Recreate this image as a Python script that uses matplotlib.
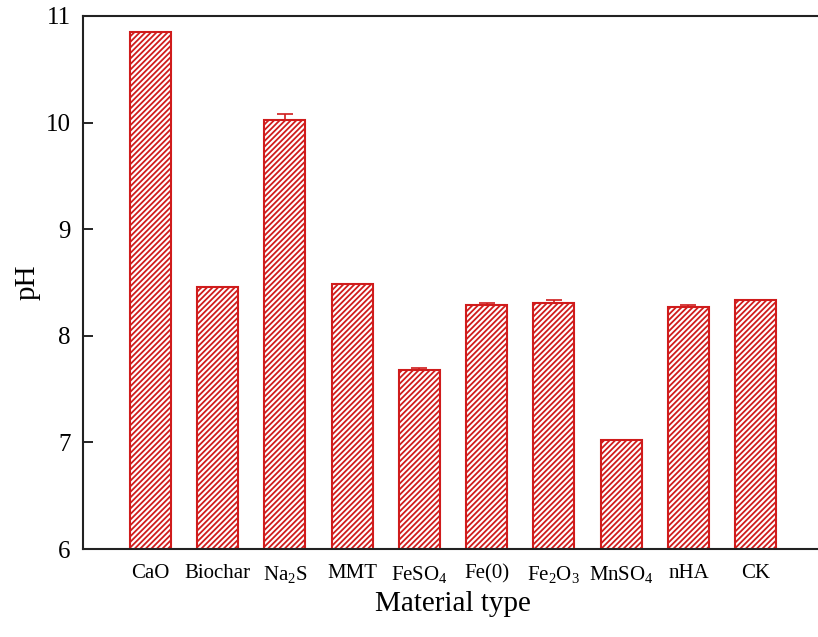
import numpy as np
import matplotlib
matplotlib.use('Agg')
import matplotlib.pyplot as plt

# pH of soil after treatment with each amendment
materials = ['CaO', 'Biochar', r'Na$_2$S', 'MMT', r'FeSO$_4$', 'Fe(0)',
             r'Fe$_2$O$_3$', r'MnSO$_4$', 'nHA', 'CK']
ph_mean = [10.85, 8.46, 10.02, 8.49, 7.68, 8.29, 8.31, 7.02, 8.27, 8.34]
ph_err = [0.0, 0.0, 0.06, 0.0, 0.015, 0.02, 0.03, 0.0, 0.02, 0.0]

plt.rcParams['font.family'] = 'Liberation Serif'
plt.rcParams['mathtext.fontset'] = 'custom'
plt.rcParams['mathtext.rm'] = 'Liberation Serif'
plt.rcParams['mathtext.it'] = 'Liberation Serif:italic'
plt.rcParams['hatch.linewidth'] = 1.3
plt.rcParams['hatch.color'] = '#d01c1c'

red = '#d01c1c'
fig = plt.figure(figsize=(8.18, 6.37), dpi=100)
ax = fig.add_axes([83 / 818, 1 - 549 / 637, 740 / 818, 533 / 637])

x = np.arange(len(materials))
# caps only on the upper side, the bar covers the rest
ax.errorbar(x, ph_mean, yerr=[np.zeros(len(ph_err)), ph_err], fmt='none',
            ecolor=red, elinewidth=1.2, capsize=5.5, capthick=1.2, zorder=1)
ax.bar(x, ph_mean, width=0.61, bottom=0, color='white', edgecolor=red,
       hatch='//////', linewidth=1.5, zorder=2)

ax.set_xlim(-1, 10)
ax.set_ylim(6, 11)
ax.set_yticks([6, 7, 8, 9, 10, 11])
ax.set_xticks(x)
ax.set_xticklabels(materials, fontsize=15)
ax.tick_params(axis='y', direction='in', length=7, width=1.2, labelsize=18, pad=9)
ax.tick_params(axis='x', length=0, pad=11)
for s in ax.spines.values():
    s.set_linewidth(1.5)
    s.set_color('#222222')

ax.set_xlabel('Material type', fontsize=21, labelpad=4)
ax.set_ylabel('pH', fontsize=21)
ax.yaxis.set_label_coords(-0.058, 0.5)

fig.savefig('out.png', dpi=100)
